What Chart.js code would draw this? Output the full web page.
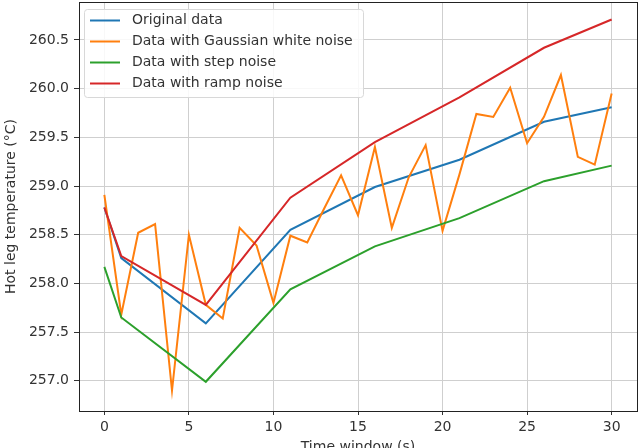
<!DOCTYPE html>
<html>
<head>
<meta charset="utf-8">
<script src="https://cdn.jsdelivr.net/npm/chart.js@4.4.1/dist/chart.umd.min.js"></script>
<style>
  html, body { margin: 0; padding: 0; background: #fff; overflow: hidden; }
  #wrap { width: 641px; height: 460px; position: relative; }
</style>
</head>
<body>
<div id="wrap"><canvas id="myChart"></canvas></div>
<script>
const ctx = document.getElementById("myChart");

/* data */
var seriesNames = ["Original data", "Data with Gaussian white noise", "Data with step noise", "Data with ramp noise"];
var seriesColors = ["#1f77b4", "#ff7f0e", "#2ca02c", "#d62728"];

var tCoarse = [0, 1, 6, 11, 16, 21, 26, 30];
var original = [258.78, 258.26, 257.59, 258.55, 258.99, 259.27, 259.66, 259.81];
var stepNoise = [258.17, 257.65, 256.99, 257.94, 258.38, 258.67, 259.05, 259.21];
var rampNoise = [258.78, 258.28, 257.78, 258.88, 259.45, 259.91, 260.42, 260.71];

var tFine = [0, 1, 2, 3, 4, 5, 6, 7, 8, 9, 10, 11, 12, 13, 14, 15, 16, 17, 18, 19, 20, 21, 22, 23, 24, 25, 26, 27, 28, 29, 30];
var gaussNoise = [258.91, 257.68, 258.52, 258.61, 256.90, 258.50, 257.78, 257.64, 258.57, 258.39, 257.80,
                  258.49, 258.42, 258.77, 259.11, 258.70, 259.40, 258.57, 259.09, 259.42, 258.54,
                  259.12, 259.74, 259.71, 260.01, 259.44, 259.71, 260.14, 259.30, 259.22, 259.95];

var xTicks = [0, 5, 10, 15, 20, 25, 30];
var yTicks = [257.0, 257.5, 258.0, 258.5, 259.0, 259.5, 260.0, 260.5];

function pts(xs, ys) {
  return xs.map(function (x, i) { return { x: x, y: ys[i] }; });
}

var allSeries = [pts(tCoarse, original), pts(tFine, gaussNoise), pts(tCoarse, stepNoise), pts(tCoarse, rampNoise)];

var FONT = "'DejaVu Sans', sans-serif";
var TEXT = "#333333";

/* frame round the plot + legend box in the upper left */
const framePlugin = {
  id: "frame",
  afterDatasetsDraw(chart) {
    const a = chart.chartArea;
    const c = chart.ctx;
    c.save();
    c.strokeStyle = "#222";
    c.lineWidth = 1;
    c.strokeRect(Math.round(a.left) + 0.5, Math.round(a.top) + 0.5, Math.round(a.right - a.left), Math.round(a.bottom - a.top));

    // legend
    const lx = 84.5, ly = 9.5, lw = 279, lh = 88, r = 3;
    c.beginPath();
    c.moveTo(lx + r, ly);
    c.arcTo(lx + lw, ly, lx + lw, ly + lh, r);
    c.arcTo(lx + lw, ly + lh, lx, ly + lh, r);
    c.arcTo(lx, ly + lh, lx, ly, r);
    c.arcTo(lx, ly, lx + lw, ly, r);
    c.closePath();
    c.fillStyle = "rgba(255,255,255,0.85)";
    c.fill();
    c.strokeStyle = "#d8d8d8";
    c.stroke();

    c.font = "14px " + FONT;
    c.textBaseline = "middle";
    c.fillStyle = TEXT;
    chart.data.datasets.forEach(function (ds, i) {
      const y = 20.5 + i * 21;
      c.strokeStyle = ds.borderColor;
      c.lineWidth = 2;
      c.beginPath();
      c.moveTo(90, y);
      c.lineTo(120, y);
      c.stroke();
      c.fillText(ds.label, 132, y);
    });
    c.restore();
  }
};

new Chart(ctx, {
  type: "line",
  data: {
    datasets: seriesNames.map(function (name, i) {
      return {
        label: name,
        data: allSeries[i],
        borderColor: seriesColors[i],
        backgroundColor: seriesColors[i],
        borderWidth: 2,
        pointRadius: 0,
        tension: 0,
        fill: false,
        order: 3 - i,
      };
    }),
  },
  options: {
    responsive: true,
    maintainAspectRatio: false,
    animation: false,
    layout: { padding: { top: 2, right: 4, left: 0, bottom: 0 } },
    plugins: {
      legend: { display: false },
      tooltip: { enabled: false },
    },
    scales: {
      x: {
        type: "linear",
        min: -1.5,
        max: 31.5,
        afterBuildTicks: function (s) { s.ticks = xTicks.map(function (v) { return { value: v }; }); },
        afterFit: function (s) { s.height = 49; s.paddingLeft = 0; s.paddingRight = 0; },
        grid: { color: "#cfcfcf", lineWidth: 1, tickColor: "#333", tickLength: 4, drawTicks: true },
        border: { display: false },
        ticks: { color: TEXT, font: { family: FONT, size: 14 }, padding: 4, maxRotation: 0 },
        title: { display: true, text: "Time window (s)", color: TEXT, font: { family: FONT, size: 14 }, padding: { top: 0, bottom: 4 } },
      },
      y: {
        type: "linear",
        min: 256.69,
        max: 260.89,
        afterBuildTicks: function (s) { s.ticks = yTicks.map(function (v) { return { value: v }; }); },
        afterFit: function (s) { s.width = 79; s.paddingTop = 0; s.paddingBottom = 0; },
        grid: { color: "#cfcfcf", lineWidth: 1, tickColor: "#333", tickLength: 5, drawTicks: true },
        border: { display: false },
        ticks: {
          color: TEXT, font: { family: FONT, size: 14 }, padding: 5,
          callback: function (v) { return Number(v).toFixed(1); },
        },
        title: { display: true, text: "Hot leg temperature (°C)", color: TEXT, font: { family: FONT, size: 14 }, padding: { top: 3, bottom: 0 } },
      },
    },
  },
  plugins: [framePlugin],
});
</script>
</body>
</html>
